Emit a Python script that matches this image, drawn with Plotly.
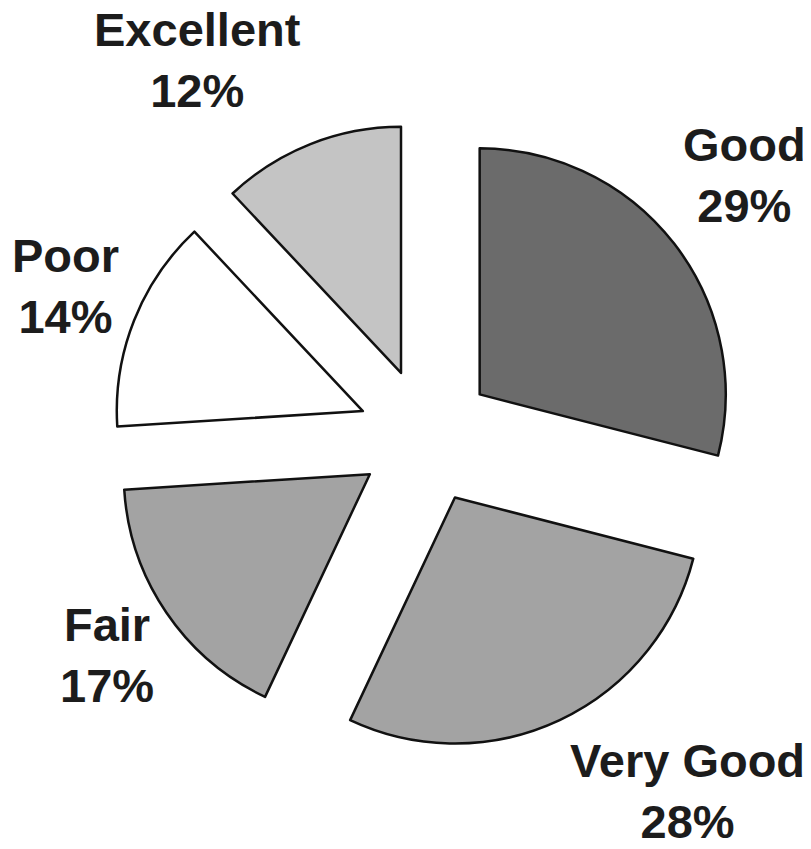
import plotly.graph_objects as go

labels = ["Good", "Very Good", "Fair", "Poor", "Excellent"]
values = [29, 28, 17, 14, 12]
colors = ["#6b6b6b", "#a3a3a3", "#a3a3a3", "#ffffff", "#c4c4c4"]

# label block centres (paper coords) for the outside captions
label_pos = {
    "Good": (0.9166, 0.8014),
    "Very Good": (0.8468, 0.0684),
    "Fair": (0.1233, 0.2307),
    "Poor": (0.0710, 0.670),
    "Excellent": (0.2354, 0.938),
}

FONT = "Liberation Sans, Arial, sans-serif"

fig = go.Figure(
    go.Pie(
        labels=labels,
        values=values,
        sort=False,
        direction="clockwise",
        rotation=0,
        pull=[0.276] * len(values),
        marker=dict(colors=colors, line=dict(color="#111111", width=2.5)),
        textinfo="none",
        hoverinfo="label+percent",
        domain=dict(x=[0.1295, 0.9116], y=[0.1177, 0.8644]),
        showlegend=False,
    )
)

total = sum(values)
for lab, val in zip(labels, values):
    x, y = label_pos[lab]
    fig.add_annotation(
        x=x, y=y, xref="paper", yref="paper",
        xanchor="center", yanchor="middle",
        text=f"<b>{lab}<br>{round(100 * val / total)}%</b>",
        showarrow=False,
        align="center",
        font=dict(family=FONT, size=47, color="#1c1c1c"),
    )

# page body adds an 8px margin, so the figure is sized to fit the window
fig.update_layout(
    width=803,
    height=841,
    margin=dict(l=0, r=0, t=0, b=0),
    paper_bgcolor="white",
    plot_bgcolor="white",
)

fig.write_html("out.html")
